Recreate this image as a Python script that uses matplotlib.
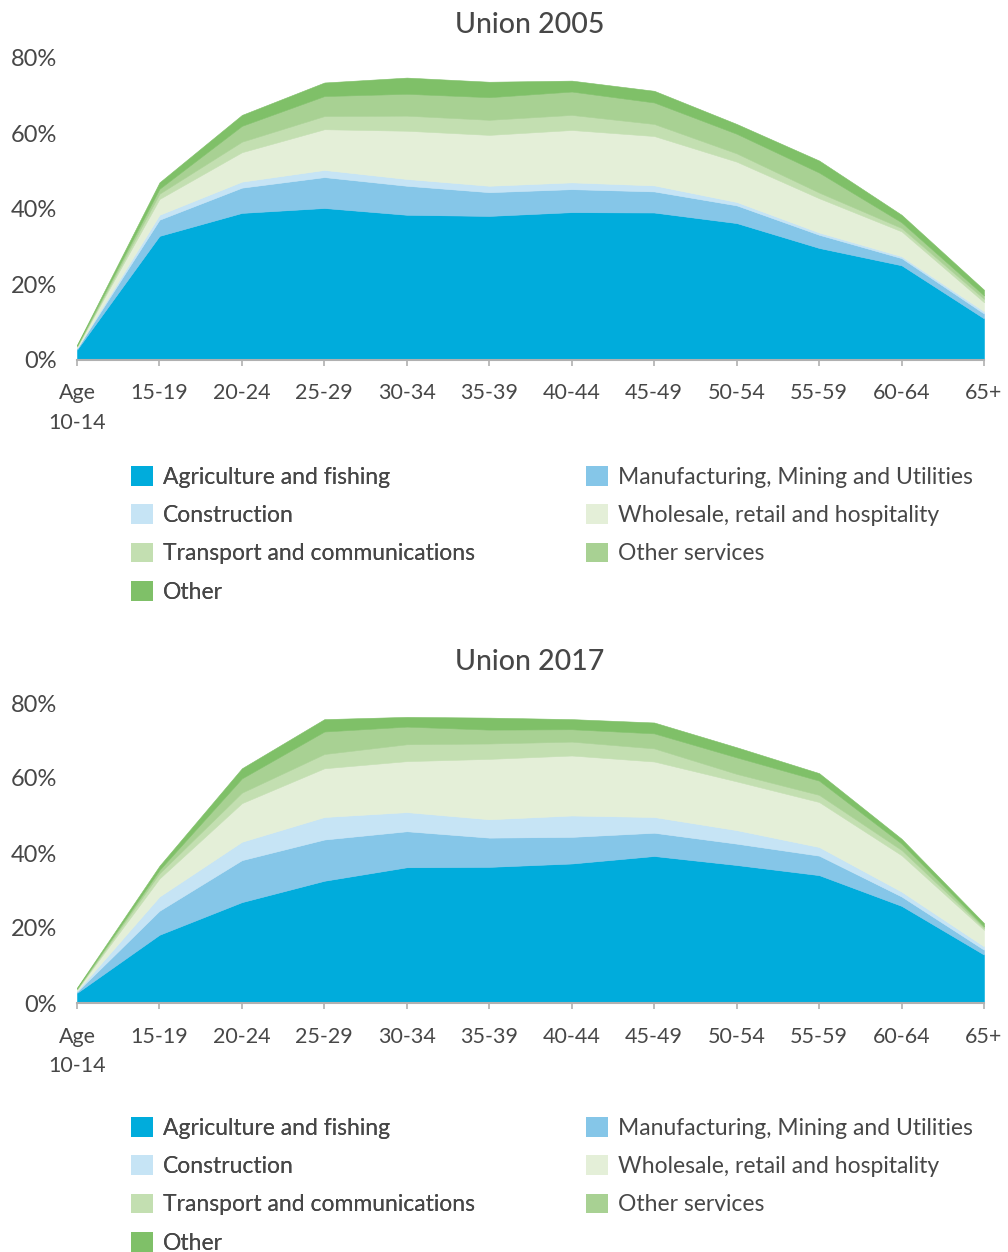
import matplotlib.pyplot as plt
from matplotlib.patches import Patch

plt.rcParams["font.family"] = ["Lato", "DejaVu Sans"]

age_groups = ["Age\n10-14", "15-19", "20-24", "25-29", "30-34", "35-39",
              "40-44", "45-49", "50-54", "55-59", "60-64", "65+"]

sectors = ["Agriculture and fishing", "Manufacturing, Mining and Utilities",
           "Construction", "Wholesale, retail and hospitality",
           "Transport and communications", "Other services", "Other"]

sector_colors = ["#00acdc", "#85c6e8", "#c6e4f5", "#e4efd8",
                 "#c3dfb1", "#a8d193", "#7fc068"]

# share of each age group employed in each sector, percent
agri_2005 = [2.6, 32.8, 38.9, 40.2, 38.4, 38.1, 39.1, 39.0, 36.2, 29.6, 25.0, 10.9]
manuf_2005 = [0.3, 4.3, 6.7, 8.2, 7.7, 6.3, 6.1, 5.6, 4.7, 3.5, 1.9, 1.3]
constr_2005 = [0.1, 1.3, 1.6, 1.9, 1.8, 1.7, 1.8, 1.6, 0.9, 0.6, 0.5, 0.6]
retail_2005 = [0.4, 4.2, 7.8, 10.8, 12.8, 13.5, 13.9, 13.1, 10.7, 9.1, 6.6, 2.4]
transport_2005 = [0.1, 1.4, 2.8, 3.5, 4.0, 4.0, 4.0, 3.2, 2.2, 1.5, 0.9, 0.9]
services_2005 = [0.2, 1.3, 4.2, 5.3, 5.8, 6.0, 6.2, 5.7, 5.2, 5.3, 1.5, 0.9]
other_2005 = [0.2, 1.7, 2.9, 3.6, 4.3, 4.1, 2.9, 3.1, 2.6, 3.2, 2.0, 1.5]

agri_2017 = [2.7, 18.2, 26.9, 32.6, 36.2, 36.3, 37.2, 39.2, 36.8, 34.1, 25.9, 12.9]
manuf_2017 = [0.3, 6.4, 11.2, 11.0, 9.6, 7.8, 7.1, 6.2, 5.7, 5.2, 2.5, 1.3]
constr_2017 = [0.2, 3.8, 4.9, 6.0, 5.1, 4.9, 5.7, 4.2, 3.6, 2.3, 1.3, 0.9]
retail_2017 = [0.4, 4.8, 10.3, 13.0, 13.6, 16.1, 16.0, 14.8, 13.0, 12.0, 9.7, 4.4]
transport_2017 = [0.1, 1.4, 2.8, 3.8, 4.5, 4.1, 3.7, 3.5, 2.0, 1.9, 1.4, 0.5]
services_2017 = [0.2, 0.9, 3.8, 6.0, 4.7, 3.7, 3.3, 4.0, 4.4, 3.8, 1.7, 0.4]
other_2017 = [0.2, 1.1, 2.7, 3.3, 2.6, 3.2, 2.7, 2.9, 2.7, 2.0, 1.3, 0.9]

y_ticks = [0, 20, 40, 60, 80]

TEXT = "#474747"
AXIS = "#b0b0b0"
W, H = 1008, 1252


def draw_panel(fig, rect, title, title_base, layers, legend_top):
    ax = fig.add_axes(rect)
    x = list(range(len(age_groups)))
    ax.stackplot(x, *layers, colors=sector_colors, linewidth=0.4,
                 edgecolor="face")
    ax.set_xlim(0, len(age_groups) - 1)
    ax.set_ylim(0, 80)
    ax.set_xticks(x)
    ax.set_xticklabels(age_groups, fontsize=15.5, color=TEXT, linespacing=1.6)
    ax.set_yticks(y_ticks)
    ax.set_yticklabels([f"{t}%" for t in y_ticks], fontsize=17, color=TEXT)
    ax.tick_params(axis="x", length=4, width=1.2, color=AXIS, pad=13)
    ax.tick_params(axis="y", length=0, pad=14.5)
    for side in ["top", "right", "left"]:
        ax.spines[side].set_visible(False)
    ax.spines["bottom"].set_color(AXIS)
    ax.spines["bottom"].set_linewidth(1.5)
    fig.text(530 / W, 1 - title_base / H, title, fontsize=20.5, color=TEXT,
             fontweight="medium", ha="center", va="baseline")

    handles = [Patch(facecolor=c, edgecolor="none") for c in sector_colors]
    left_idx = [0, 2, 4, 6]
    right_idx = [1, 3, 5]
    opts = dict(frameon=False, fontsize=16.5, handlelength=0.95,
                handleheight=0.95, handletextpad=0.45, labelspacing=0.72,
                borderaxespad=0, borderpad=0, labelcolor=TEXT, loc="upper left")
    leg1 = fig.legend([handles[i] for i in left_idx],
                      [sectors[i] for i in left_idx],
                      bbox_to_anchor=(131 / W, 1 - legend_top / H), **opts)
    fig.legend([handles[i] for i in right_idx],
               [sectors[i] for i in right_idx],
               bbox_to_anchor=(586 / W, 1 - legend_top / H), **opts)
    fig.add_artist(leg1)
    return ax


def main():
    fig = plt.figure(figsize=(W / 100, H / 100), dpi=100)

    layers_2005 = [agri_2005, manuf_2005, constr_2005, retail_2005,
                   transport_2005, services_2005, other_2005]
    layers_2017 = [agri_2017, manuf_2017, constr_2017, retail_2017,
                   transport_2017, services_2017, other_2017]

    left = 77 / W
    width = (984 - 77) / W
    draw_panel(fig, [left, 1 - 359.5 / H, width, 301.5 / H],
               "Union 2005", 33, layers_2005, 466)
    draw_panel(fig, [left, 1 - 1003 / H, width, 300 / H],
               "Union 2017", 670, layers_2017, 1117)

    plt.savefig("out.png", dpi=100)
    plt.close()


if __name__ == "__main__":
    main()
